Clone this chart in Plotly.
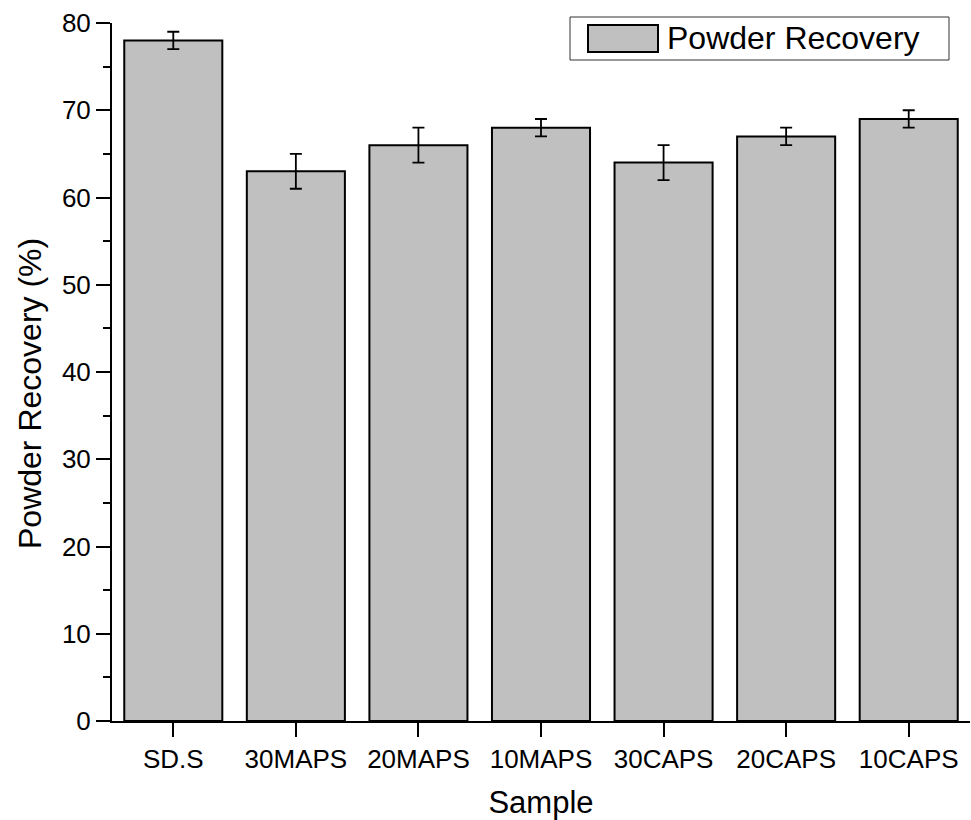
import plotly.graph_objects as go

samples = ["SD.S", "30MAPS", "20MAPS", "10MAPS", "30CAPS", "20CAPS", "10CAPS"]
recovery = [78, 63, 66, 68, 64, 67, 69]
errors = [1, 2, 2, 1, 2, 1, 1]
y_ticks = [0, 10, 20, 30, 40, 50, 60, 70, 80]

FONT = "Arial, 'Liberation Sans', sans-serif"

fig = go.Figure()
fig.add_trace(go.Bar(
    x=samples, y=recovery, width=0.8,
    marker=dict(color="#C0C0C0", line=dict(color="black", width=2)),
    error_y=dict(type="data", array=errors, visible=True, color="black", thickness=1.8, width=6),
    name="Powder Recovery", showlegend=False,
))

fig.update_layout(
    width=971, height=820,
    margin=dict(l=112, r=1, t=23, b=99),
    plot_bgcolor="white", paper_bgcolor="white",
    font=dict(family=FONT, color="black"),
    xaxis=dict(
        range=[-0.5, 6.5], showline=True, linecolor="black", linewidth=2,
        ticks="outside", ticklen=14, tickwidth=2, tickcolor="black",
        tickfont=dict(size=26, family=FONT), showgrid=False, zeroline=False,
        title=dict(text="Sample", font=dict(size=31, family=FONT), standoff=24),
    ),
    yaxis=dict(
        range=[0, 80], showline=True, linecolor="black", linewidth=2,
        ticks="outside", ticklen=14, tickwidth=2, tickcolor="black",
        tickvals=y_ticks, tickfont=dict(size=26, family=FONT),
        showgrid=False, zeroline=False,
        minor=dict(ticks="outside", ticklen=7, tickwidth=2, tickcolor="black", dtick=5, showgrid=False),
    ),
    shapes=[
        dict(type="rect", xref="paper", yref="paper",
             x0=(570 - 112) / 858, x1=(949 - 112) / 858,
             y0=(721 - 60) / 698, y1=(721 - 17) / 698,
             line=dict(color="#333333", width=1), fillcolor="white", layer="above"),
        dict(type="rect", xref="paper", yref="paper",
             x0=(588 - 112) / 858, x1=(658 - 112) / 858,
             y0=(721 - 52) / 698, y1=(721 - 25) / 698,
             line=dict(color="black", width=2), fillcolor="#C0C0C0", layer="above"),
    ],
    annotations=[
        dict(text="Powder Recovery", xref="paper", yref="paper",
             x=(665 - 112) / 858, y=(721 - 38) / 698, xanchor="left", yanchor="middle",
             showarrow=False, font=dict(size=32, family=FONT, color="black")),
        dict(text="Powder Recovery (%)", xref="paper", yref="paper",
             x=(30 - 112) / 858, y=(721 - 394) / 698, xanchor="center", yanchor="middle",
             textangle=-90, showarrow=False, font=dict(size=32, family=FONT, color="black")),
    ],
)

fig.write_html("out.html", config={"displayModeBar": False},
               post_script="document.body.style.margin='0px';")
